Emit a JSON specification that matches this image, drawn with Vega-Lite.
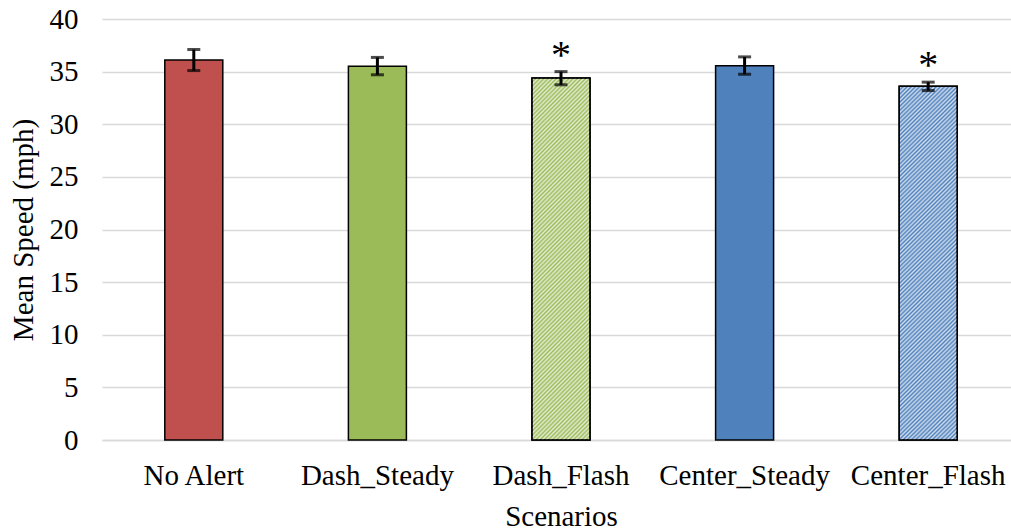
{
  "$schema": "https://vega.github.io/schema/vega-lite/v6.json",
  "autosize": "none",
  "width": 909,
  "height": 421,
  "padding": {"left": 102, "top": 19, "right": 0, "bottom": 91},
  "background": "white",
  "config": {
    "view": {"stroke": null},
    "font": "Liberation Serif"
  },
  "data": {
    "values": [
      {"scenario": "No Alert", "mean": 36.1, "lo": 35.1, "hi": 37.1, "sig": "", "pattern": "dots"},
      {"scenario": "Dash_Steady", "mean": 35.5, "lo": 34.7, "hi": 36.35, "sig": "", "pattern": "solid"},
      {"scenario": "Dash_Flash", "mean": 34.4, "lo": 33.75, "hi": 35.0, "sig": "*", "pattern": "stripes"},
      {"scenario": "Center_Steady", "mean": 35.55, "lo": 34.75, "hi": 36.4, "sig": "", "pattern": "solid"},
      {"scenario": "Center_Flash", "mean": 33.6, "lo": 33.2, "hi": 34.0, "sig": "*", "pattern": "stripes"}
    ]
  },
  "encoding": {
    "x": {
      "field": "scenario", "type": "nominal", "sort": null,
      "scale": {"range": [0, 918], "paddingInner": 0, "paddingOuter": 0},
      "axis": {
        "title": "Scenarios", "labelAngle": 0, "ticks": false,
        "domainColor": "#D9D9D9", "domainWidth": 1.5,
        "labelFont": "Liberation Serif", "labelFontSize": 29, "labelColor": "#000",
        "labelPadding": 21,
        "titleFont": "Liberation Serif", "titleFontSize": 29, "titleFontWeight": "normal", "titleColor": "#000",
        "titlePadding": 12
      }
    }
  },
  "layer": [
    {
      "mark": {"type": "bar", "size": 58, "stroke": "#000", "strokeWidth": 1.5},
      "encoding": {
        "y": {
          "field": "mean", "type": "quantitative",
          "scale": {"domain": [0, 40], "nice": false, "zero": true},
          "axis": {
            "title": "Mean Speed (mph)", "values": [0, 5, 10, 15, 20, 25, 30, 35, 40],
            "domain": false, "ticks": false, "gridColor": "#D9D9D9", "gridWidth": 1.5,
            "labelFont": "Liberation Serif", "labelFontSize": 29, "labelColor": "#000",
            "labelPadding": 24,
            "titleFont": "Liberation Serif", "titleFontSize": 29, "titleFontWeight": "normal", "titleColor": "#000",
            "titlePadding": 11
          }
        },
        "color": {
          "field": "scenario", "type": "nominal", "legend": null,
          "scale": {
            "domain": ["No Alert", "Dash_Steady", "Dash_Flash", "Center_Steady", "Center_Flash"],
            "range": ["#C0504D", "#9BBB59", "#9BBB59", "#4F81BD", "#4F81BD"]
          }
        }
      }
    },
    {
      "transform": [{"filter": "datum.pattern === 'stripes'"}],
      "mark": {
        "type": "bar", "size": 58, "stroke": "#000", "strokeWidth": 1.5,
        "fill": {
          "gradient": "linear", "x1": 0, "y1": 0, "x2": 0.183, "y2": 1.132,
          "stops": [
{"offset":0,"color":"#fff0"},{"offset":0.005,"color":"#fffb"},{"offset":0.01,"color":"#fff0"},{"offset":0.015,"color":"#fffb"},{"offset":0.02,"color":"#fff0"},{"offset":0.025,"color":"#fffb"},{"offset":0.03,"color":"#fff0"},{"offset":0.035,"color":"#fffb"},{"offset":0.04,"color":"#fff0"},{"offset":0.045,"color":"#fffb"},
{"offset":0.05,"color":"#fff0"},{"offset":0.055,"color":"#fffb"},{"offset":0.06,"color":"#fff0"},{"offset":0.065,"color":"#fffb"},{"offset":0.07,"color":"#fff0"},{"offset":0.075,"color":"#fffb"},{"offset":0.08,"color":"#fff0"},{"offset":0.085,"color":"#fffb"},{"offset":0.09,"color":"#fff0"},{"offset":0.095,"color":"#fffb"},
{"offset":0.1,"color":"#fff0"},{"offset":0.105,"color":"#fffb"},{"offset":0.11,"color":"#fff0"},{"offset":0.115,"color":"#fffb"},{"offset":0.12,"color":"#fff0"},{"offset":0.125,"color":"#fffb"},{"offset":0.13,"color":"#fff0"},{"offset":0.135,"color":"#fffb"},{"offset":0.14,"color":"#fff0"},{"offset":0.145,"color":"#fffb"},
{"offset":0.15,"color":"#fff0"},{"offset":0.155,"color":"#fffb"},{"offset":0.16,"color":"#fff0"},{"offset":0.165,"color":"#fffb"},{"offset":0.17,"color":"#fff0"},{"offset":0.175,"color":"#fffb"},{"offset":0.18,"color":"#fff0"},{"offset":0.185,"color":"#fffb"},{"offset":0.19,"color":"#fff0"},{"offset":0.195,"color":"#fffb"},
{"offset":0.2,"color":"#fff0"},{"offset":0.205,"color":"#fffb"},{"offset":0.21,"color":"#fff0"},{"offset":0.215,"color":"#fffb"},{"offset":0.22,"color":"#fff0"},{"offset":0.225,"color":"#fffb"},{"offset":0.23,"color":"#fff0"},{"offset":0.235,"color":"#fffb"},{"offset":0.24,"color":"#fff0"},{"offset":0.245,"color":"#fffb"},
{"offset":0.25,"color":"#fff0"},{"offset":0.255,"color":"#fffb"},{"offset":0.26,"color":"#fff0"},{"offset":0.265,"color":"#fffb"},{"offset":0.27,"color":"#fff0"},{"offset":0.275,"color":"#fffb"},{"offset":0.28,"color":"#fff0"},{"offset":0.285,"color":"#fffb"},{"offset":0.29,"color":"#fff0"},{"offset":0.295,"color":"#fffb"},
{"offset":0.3,"color":"#fff0"},{"offset":0.305,"color":"#fffb"},{"offset":0.31,"color":"#fff0"},{"offset":0.315,"color":"#fffb"},{"offset":0.32,"color":"#fff0"},{"offset":0.325,"color":"#fffb"},{"offset":0.33,"color":"#fff0"},{"offset":0.335,"color":"#fffb"},{"offset":0.34,"color":"#fff0"},{"offset":0.345,"color":"#fffb"},
{"offset":0.35,"color":"#fff0"},{"offset":0.355,"color":"#fffb"},{"offset":0.36,"color":"#fff0"},{"offset":0.365,"color":"#fffb"},{"offset":0.37,"color":"#fff0"},{"offset":0.375,"color":"#fffb"},{"offset":0.38,"color":"#fff0"},{"offset":0.385,"color":"#fffb"},{"offset":0.39,"color":"#fff0"},{"offset":0.395,"color":"#fffb"},
{"offset":0.4,"color":"#fff0"},{"offset":0.405,"color":"#fffb"},{"offset":0.41,"color":"#fff0"},{"offset":0.415,"color":"#fffb"},{"offset":0.42,"color":"#fff0"},{"offset":0.425,"color":"#fffb"},{"offset":0.43,"color":"#fff0"},{"offset":0.435,"color":"#fffb"},{"offset":0.44,"color":"#fff0"},{"offset":0.445,"color":"#fffb"},
{"offset":0.45,"color":"#fff0"},{"offset":0.455,"color":"#fffb"},{"offset":0.46,"color":"#fff0"},{"offset":0.465,"color":"#fffb"},{"offset":0.47,"color":"#fff0"},{"offset":0.475,"color":"#fffb"},{"offset":0.48,"color":"#fff0"},{"offset":0.485,"color":"#fffb"},{"offset":0.49,"color":"#fff0"},{"offset":0.495,"color":"#fffb"},
{"offset":0.5,"color":"#fff0"},{"offset":0.505,"color":"#fffb"},{"offset":0.51,"color":"#fff0"},{"offset":0.515,"color":"#fffb"},{"offset":0.52,"color":"#fff0"},{"offset":0.525,"color":"#fffb"},{"offset":0.53,"color":"#fff0"},{"offset":0.535,"color":"#fffb"},{"offset":0.54,"color":"#fff0"},{"offset":0.545,"color":"#fffb"},
{"offset":0.55,"color":"#fff0"},{"offset":0.555,"color":"#fffb"},{"offset":0.56,"color":"#fff0"},{"offset":0.565,"color":"#fffb"},{"offset":0.57,"color":"#fff0"},{"offset":0.575,"color":"#fffb"},{"offset":0.58,"color":"#fff0"},{"offset":0.585,"color":"#fffb"},{"offset":0.59,"color":"#fff0"},{"offset":0.595,"color":"#fffb"},
{"offset":0.6,"color":"#fff0"},{"offset":0.605,"color":"#fffb"},{"offset":0.61,"color":"#fff0"},{"offset":0.615,"color":"#fffb"},{"offset":0.62,"color":"#fff0"},{"offset":0.625,"color":"#fffb"},{"offset":0.63,"color":"#fff0"},{"offset":0.635,"color":"#fffb"},{"offset":0.64,"color":"#fff0"},{"offset":0.645,"color":"#fffb"},
{"offset":0.65,"color":"#fff0"},{"offset":0.655,"color":"#fffb"},{"offset":0.66,"color":"#fff0"},{"offset":0.665,"color":"#fffb"},{"offset":0.67,"color":"#fff0"},{"offset":0.675,"color":"#fffb"},{"offset":0.68,"color":"#fff0"},{"offset":0.685,"color":"#fffb"},{"offset":0.69,"color":"#fff0"},{"offset":0.695,"color":"#fffb"},
{"offset":0.7,"color":"#fff0"},{"offset":0.705,"color":"#fffb"},{"offset":0.71,"color":"#fff0"},{"offset":0.715,"color":"#fffb"},{"offset":0.72,"color":"#fff0"},{"offset":0.725,"color":"#fffb"},{"offset":0.73,"color":"#fff0"},{"offset":0.735,"color":"#fffb"},{"offset":0.74,"color":"#fff0"},{"offset":0.745,"color":"#fffb"},
{"offset":0.75,"color":"#fff0"},{"offset":0.755,"color":"#fffb"},{"offset":0.76,"color":"#fff0"},{"offset":0.765,"color":"#fffb"},{"offset":0.77,"color":"#fff0"},{"offset":0.775,"color":"#fffb"},{"offset":0.78,"color":"#fff0"},{"offset":0.785,"color":"#fffb"},{"offset":0.79,"color":"#fff0"},{"offset":0.795,"color":"#fffb"},
{"offset":0.8,"color":"#fff0"},{"offset":0.805,"color":"#fffb"},{"offset":0.81,"color":"#fff0"},{"offset":0.815,"color":"#fffb"},{"offset":0.82,"color":"#fff0"},{"offset":0.825,"color":"#fffb"},{"offset":0.83,"color":"#fff0"},{"offset":0.835,"color":"#fffb"},{"offset":0.84,"color":"#fff0"},{"offset":0.845,"color":"#fffb"},
{"offset":0.85,"color":"#fff0"},{"offset":0.855,"color":"#fffb"},{"offset":0.86,"color":"#fff0"},{"offset":0.865,"color":"#fffb"},{"offset":0.87,"color":"#fff0"},{"offset":0.875,"color":"#fffb"},{"offset":0.88,"color":"#fff0"},{"offset":0.885,"color":"#fffb"},{"offset":0.89,"color":"#fff0"},{"offset":0.895,"color":"#fffb"},
{"offset":0.9,"color":"#fff0"},{"offset":0.905,"color":"#fffb"},{"offset":0.91,"color":"#fff0"},{"offset":0.915,"color":"#fffb"},{"offset":0.92,"color":"#fff0"},{"offset":0.925,"color":"#fffb"},{"offset":0.93,"color":"#fff0"},{"offset":0.935,"color":"#fffb"},{"offset":0.94,"color":"#fff0"},{"offset":0.945,"color":"#fffb"},
{"offset":0.95,"color":"#fff0"},{"offset":0.955,"color":"#fffb"},{"offset":0.96,"color":"#fff0"},{"offset":0.965,"color":"#fffb"},{"offset":0.97,"color":"#fff0"},{"offset":0.975,"color":"#fffb"},{"offset":0.98,"color":"#fff0"},{"offset":0.985,"color":"#fffb"},{"offset":0.99,"color":"#fff0"},{"offset":0.995,"color":"#fffb"},
{"offset":1,"color":"#fff0"}
          ]
        }
      },
      "encoding": {
        "y": {"field": "mean", "type": "quantitative"}
      }
    },
    {
      "mark": {"type": "rule", "color": "#000", "strokeWidth": 3},
      "encoding": {
        "y": {"field": "lo", "type": "quantitative"},
        "y2": {"field": "hi"}
      }
    },
    {
      "mark": {"type": "tick", "orient": "horizontal", "size": 13, "thickness": 3, "color": "#000"},
      "encoding": {"y": {"field": "lo", "type": "quantitative"}}
    },
    {
      "mark": {"type": "tick", "orient": "horizontal", "size": 13, "thickness": 3, "color": "#000"},
      "encoding": {"y": {"field": "hi", "type": "quantitative"}}
    },
    {
      "mark": {"type": "text", "font": "Liberation Serif", "fontSize": 40, "baseline": "alphabetic", "dy": -4, "color": "#000"},
      "encoding": {
        "y": {"field": "hi", "type": "quantitative"},
        "text": {"field": "sig"}
      }
    }
  ]
}
